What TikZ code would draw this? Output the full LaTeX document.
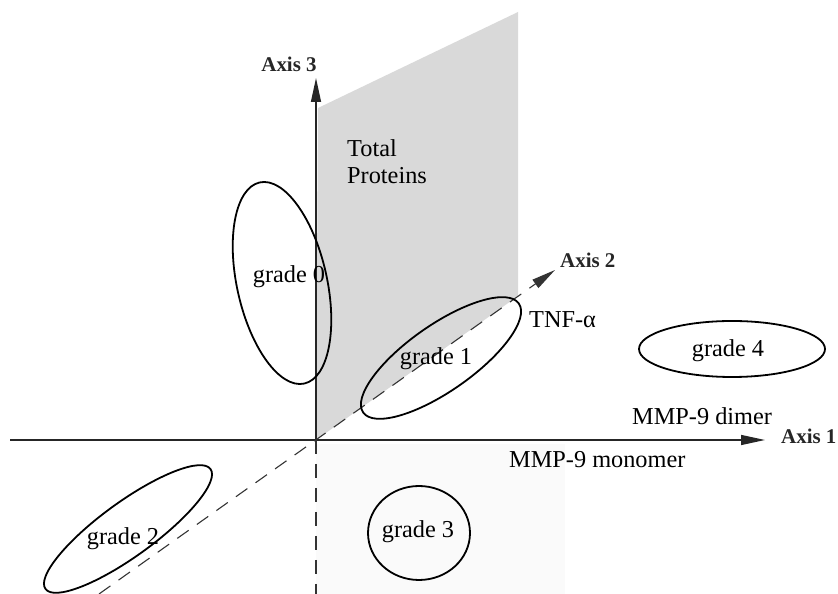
\documentclass[tikz,border=0pt]{standalone}
\usepackage{fontspec}
\setmainfont{Liberation Serif}
\usetikzlibrary{arrows.meta}
\begin{document}
\begin{tikzpicture}[x=1bp,y=1bp,
  lab/.style={font=\fontsize{24.4}{26}\selectfont, inner sep=0pt, anchor=base},
  labw/.style={lab, anchor=base west},
  axlab/.style={font=\fontsize{21}{23}\selectfont\bfseries, inner sep=0pt, text=black!85},
  ell/.style={draw=black, line width=1.8bp},
  axisline/.style={draw=black!85, line width=1.4bp},
  dashline/.style={draw=black!80, line width=1.1bp, dash pattern=on 14bp off 10bp},
  tip/.style={-{Triangle[length=24bp,width=10bp]}}
]
\useasboundingbox (0,0) rectangle (838,594);
% coordinates
\coordinate (O) at (316,154);
\coordinate (a1s) at (10,154);
\coordinate (a1t) at (765,154);
\coordinate (a3t) at (316,516);
\coordinate (a2s) at (99,0);
\coordinate (a2t) at (555,324);
\coordinate (vb) at (316,0);
% planes
\fill[gray!4] (316,0) rectangle (565,150);
\fill[gray!30] (O) -- (518,298) -- (518,582) -- (318,486) -- cycle;
% axes
\draw[axisline, tip] (a1s) -- (a1t);
\draw[axisline, tip] (O) -- (a3t);
\draw[dashline] (O) -- (vb);
\draw[dashline, tip] (a2s) -- (a2t);
% ellipses
\draw[ell, rotate around={12.5:(282,311)}] (282,311) ellipse [x radius=45, y radius=103];
\draw[ell, rotate around={35:(441,236)}] (441,236) ellipse [x radius=95, y radius=33];
\draw[ell, rotate around={36:(128,65)}] (128,65) ellipse [x radius=102, y radius=27];
\draw[ell] (419,61) ellipse [x radius=51, y radius=47];
\draw[ell] (732,245) ellipse [x radius=93, y radius=28];
% labels
\node[lab] (g0) at (289,311) {grade 0};
\node[lab] (g1) at (436,229) {grade 1};
\node[lab] (g2) at (123,49) {grade 2};
\node[lab] (g3) at (418,56) {grade 3};
\node[lab] (g4) at (728,237) {grade 4};
\node[labw] (tot) at (347,437) {Total};
\node[labw] (prot) at (347,410) {Proteins};
\node[labw] (tnf) at (529,266) {TNF-α};
\node[labw] (dim) at (632,169) {MMP-9 dimer};
\node[labw] (mon) at (509,126) {MMP-9 monomer};
\node[axlab, anchor=base] (ax3) at (289,522) {Axis 3};
\node[axlab, anchor=base west] (ax2) at (560,326) {Axis 2};
\node[axlab, anchor=base west] (ax1) at (781,150) {Axis 1};
\end{tikzpicture}
\end{document}
